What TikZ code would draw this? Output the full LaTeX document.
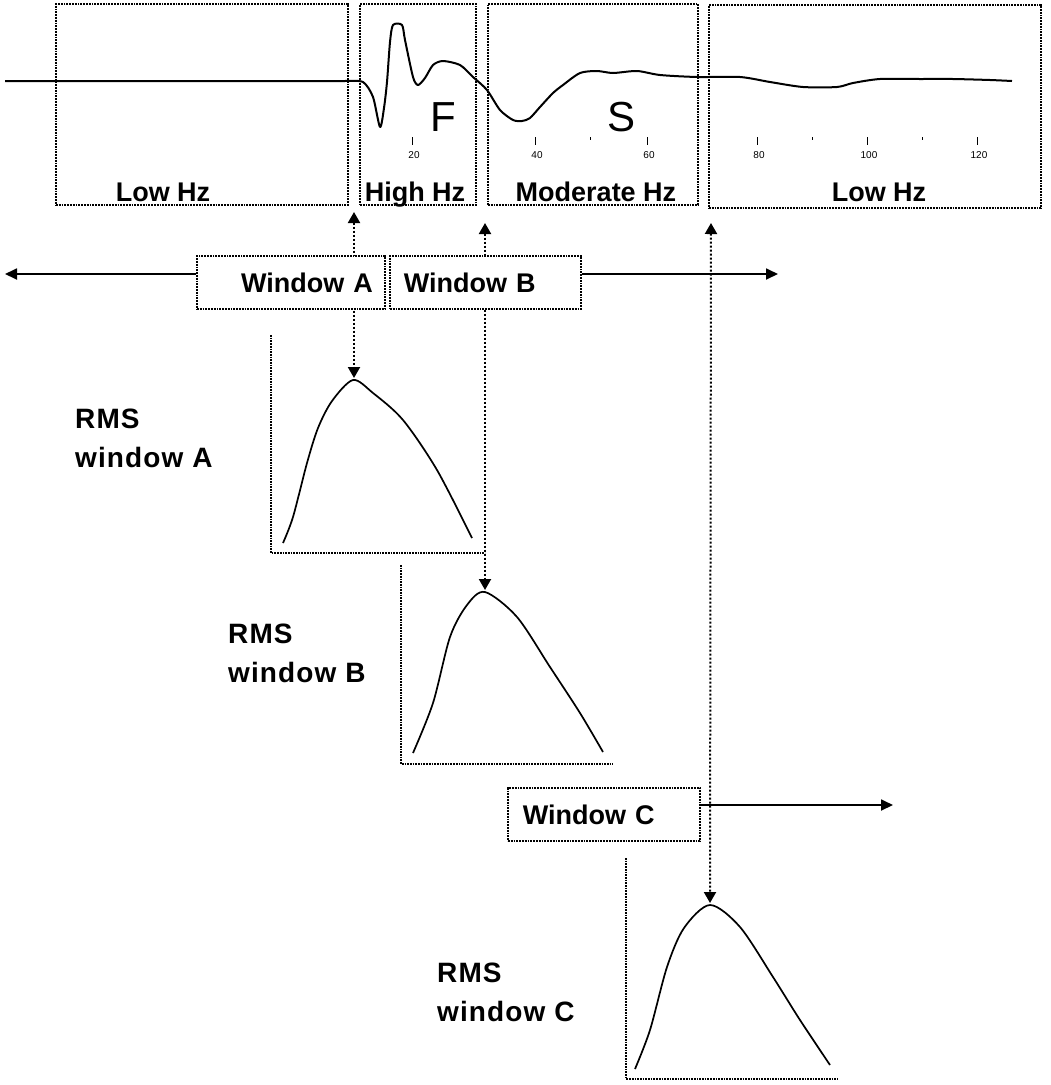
\documentclass[tikz,border=0pt]{standalone}
\usepackage{fontspec}
\setmainfont{Liberation Sans}
\newfontfamily\widefont{Liberation Sans}[LetterSpace=4]
\usetikzlibrary{arrows.meta}
\begin{document}
\begin{tikzpicture}[x=1pt,y=-1pt,
  panel/.style={draw, densely dotted, line width=1.8pt, inner sep=0pt, anchor=north west},
  wbox/.style={draw, densely dotted, line width=1.8pt, fill=white, anchor=north west,
               minimum height=53pt, inner ysep=0pt, font=\bfseries\fontsize{27}{30}\selectfont},
  hz/.style={font=\bfseries\fontsize{27}{30}\selectfont, inner sep=0pt, anchor=base},
  rms/.style={font=\widefont\bfseries\fontsize{28}{30}\selectfont, anchor=base west, inner sep=0pt},
  big/.style={font=\fontsize{42}{46}\selectfont, inner sep=0pt},
  ticklbl/.style={font=\fontsize{10}{12}\selectfont, inner sep=0pt},
  tickmark/.style={line width=1pt},
  signal/.style={line width=2pt, line join=round},
  rmscurve/.style={line width=1.7pt, line join=round},
  vline/.style={dotted, line width=2pt},
  axisline/.style={densely dotted, line width=1.7pt},
  harrow/.style={line width=1.8pt, -{Triangle[length=12pt,width=11pt]}},
  bothtip/.style={{Triangle[length=11pt,width=12pt]}-{Triangle[length=11pt,width=12pt]}},
]
\useasboundingbox (0,0) rectangle (1051,1085);

% ---- top panels ----
\node[panel, minimum width=292pt, minimum height=201pt] (p1) at (55,3) {};
\node[panel, minimum width=116pt, minimum height=201pt] (p2) at (359,3) {};
\node[panel, minimum width=210pt, minimum height=201pt] (p3) at (487,3) {};
\node[panel, minimum width=332pt, minimum height=203pt] (p4) at (708,4) {};

\node[hz] (l1) at (163,201) {Low Hz};
\node[hz] (l2) at (415,201) {High Hz};
\node[hz] (l3) at (596,201) {Moderate Hz};
\node[hz] (l4) at (879,201) {Low Hz};

% ---- signal ----
\draw[signal] (5,81) -- plot[smooth, tension=0.45] coordinates {
  (345,81) (363,82) (373,97) (380,127) (384,108) (387,82) (390,42) (393,25)
  (402,25) (405,40) (413,77) (418,85) (425,78) (433,65) (443,61) (460,65)
  (473,77) (487,90) (500,110) (513,120) (522,121) (530,118) (540,107)
  (553,93) (563,85) (580,73) (597,71) (613,73) (637,71) (660,75) (697,77)
  (740,77) (770,82) (803,87) (837,87) (853,83) (880,79) (920,79) (953,79)
  (990,80) (1012,81)};

\node[big] (F) at (443,117) {F};
\node[big] (S) at (622,117) {S};

% ---- ticks ----
\foreach \xx/\tt in {412/20, 535/40, 647/60, 757/80, 867/100, 977/120}{
  \draw[tickmark] (\xx,137) -- (\xx,145);
  \node[ticklbl] (t\tt) at (\xx+2,155) {\tt};
}
\foreach \xx in {590, 812, 922}{
  \draw[tickmark] (\xx,137) -- (\xx,140);
}

% ---- named points ----
\coordinate (topA) at (354,212);
\coordinate (pkA) at (354,378);
\coordinate (topB) at (485,223);
\coordinate (pkB) at (485,590);
\coordinate (topC) at (711,223);
\coordinate (pkC) at (710,903);
\coordinate (Lend) at (5,274);
\coordinate (Rend) at (778,274);
\coordinate (Cend) at (893,805);

% ---- vertical dotted connectors ----
\draw[vline, bothtip] (topA) -- (pkA);
\draw[vline, bothtip] (topB) -- (pkB);
\draw[vline, bothtip] (topC) -- (pkC);

% ---- window boxes ----
\node[wbox, minimum width=188pt, inner xsep=12pt, text width=164pt, align=right] (wa) at (196,255) {Window A};
\node[wbox, minimum width=191pt, inner xsep=14pt, text width=163pt, align=left] (wb) at (389,255) {Window B};
\node[wbox, minimum width=192pt, inner xsep=15pt, text width=162pt, align=left] (wc) at (507,787) {Window C};

\draw[harrow] (wa.west |- Lend) -- (Lend);
\draw[harrow] (wb.east |- Rend) -- (Rend);
\draw[harrow] (wc.east |- Cend) -- (Cend);

% ---- RMS plots ----
\draw[axisline] (271,335) -- (271,553) -- (485,553);
\draw[rmscurve] plot[smooth, tension=0.5] coordinates {
  (283,543) (293,517) (307,463) (318,428) (332,401) (353,380) (373,393) (403,420) (437,470) (472,538)};

\draw[axisline] (401,565) -- (401,764) -- (613,764);
\draw[rmscurve] plot[smooth, tension=0.5] coordinates {
  (413,753) (433,703) (450,637) (467,605) (485,592) (517,617) (550,667) (580,713) (603,752)};

\draw[axisline] (626,858) -- (626,1079) -- (838,1079);
\draw[rmscurve] plot[smooth, tension=0.5] coordinates {
  (635,1069) (650,1030) (667,967) (684,928) (710,905) (740,927) (773,977) (800,1020) (830,1065)};

% ---- RMS labels ----
\node[rms] (ra1) at (75,428) {RMS};
\node[rms] (ra2) at (75,467) {window A};
\node[rms] (rb1) at (228,643) {RMS};
\node[rms] (rb2) at (228,682) {window B};
\node[rms] (rc1) at (437,982) {RMS};
\node[rms] (rc2) at (437,1021) {window C};
\end{tikzpicture}
\end{document}
